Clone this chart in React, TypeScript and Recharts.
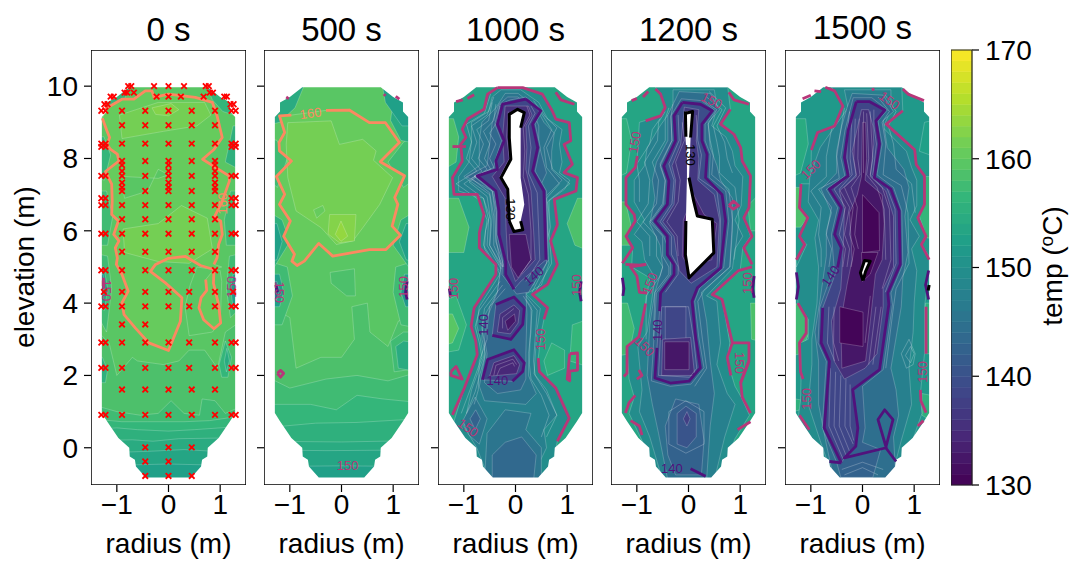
import { Scatter, ScatterChart, XAxis, YAxis } from 'recharts';

type Pt = [number, number];
type Layer = [number, Pt[]];
type Line = [number, Pt[]];
type Lab = [number, number, string, number, number];

const FONT = 'Liberation Sans, Arial, sans-serif';
const xTicks = [-1, 0, 1];
const yTicks = [0, 2, 4, 6, 8, 10];
const cbTicks = [130, 140, 150, 160, 170];
const titles = ['0 s', '500 s', '1000 s', '1200 s', '1500 s'];
const viridis = ['#440154', '#482878', '#3e4989', '#31688e', '#26828e', '#1f9e89', '#35b779', '#6ece58', '#b5de2b', '#fde725'];
const lineColor: Record<number, string> = { 160: '#fc8961', 150: '#b73779', 140: '#51127c', 130: '#000000' };
const levels = Array.from({ length: 40 }, (_, i) => 130 + i);

const frame: Pt[] = [[-1.5, -1.03], [-1.5, 11], [1.5, 11], [1.5, -1.03], [-1.5, -1.03]];
const vessel: Pt[] = [[-0.76, 9.97], [-1.0, 9.7], [-1.19, 9.55], [-1.19, 9.3], [-1.29, 9.15], [-1.29, 0.96], [-1.19, 0.73], [-0.97, 0.27], [-0.76, 0], [-0.75, -0.24], [-0.65, -0.33], [-0.63, -0.52], [-0.44, -0.82], [0.44, -0.82], [0.63, -0.52], [0.65, -0.33], [0.75, -0.24], [0.76, 0], [0.97, 0.27], [1.19, 0.73], [1.29, 0.96], [1.29, 9.15], [1.19, 9.3], [1.19, 9.55], [1.0, 9.7], [0.76, 9.97], [-0.76, 9.97]];
const mask: Pt[] = [[-1.5, 11], [1.5, 11], [1.5, -1.03], [-1.5, -1.03], [-1.5, 11], ...vessel, [-1.5, 11]];

// red sensor crosses, [elevation, radii]
const edge = [-1.3, -1.22, 1.22, 1.3];
const inner = [-0.9, -0.45, 0, 0.45, 0.9];
const sensorRows: [number, number[]][] = [
  [10.0, [-0.78, -0.72, -0.28, 0, 0.3, 0.72, 0.78]], [9.82, [-0.85, -0.8, -0.67, 0.8, 0.86]], [9.71, [-1.12, -1.06, -0.23, 0, 0.24, 0.68, 1.08, 1.13]],
  [9.5, [-1.24, -1.18, 1.2, 1.26]], [9.32, [...edge, ...inner]], [8.92, inner], [8.41, [...edge, ...inner]], [8.32, edge],
  [7.93, inner], [7.82, [-0.9, 0, 0.9]], [7.65, [-0.9, 0, 0.9]], [7.52, [...edge, ...inner]], [7.33, [-0.9, 0, 0.9]], [7.2, [-0.9, 0, 0.9]], [7.1, inner],
  [6.9, edge], [6.71, [...edge, ...inner]], [6.32, inner], [5.92, [...edge, ...inner]], [5.42, inner], [4.91, [...edge, ...inner]],
  [4.31, [-1.25, -0.9, -0.45, 0, 0.4, 0.9, 1.25]], [3.91, [-1.3, -1.22, -0.9, -0.45, 0, 0.4, 0.9, 1.22, 1.3]], [3.41, [-0.9, -0.45]],
  [2.91, [...edge, -0.9, -0.45, 0, 0.4, 0.9]], [2.21, [...edge, -0.9, -0.45, 0, 0.4, 0.9]], [1.61, inner], [0.91, [...edge, ...inner]],
  [0.01, [-0.45, 0, 0.45]], [-0.38, [-0.45, 0]], [-0.78, [-0.45, 0, 0.45]],
];
const sensors = sensorRows.flatMap(([y, rs]) => rs.map((r) => ({ r, y })));

const band = (line: Pt[]): Pt[] => [[-1.5, 11], ...line, [1.5, 11]];
const all: Pt[] = [[-1.5, -1.03], [-1.5, 11], [1.5, 11], [1.5, -1.03]];

// t = 0 s
const p0Contour160a: Pt[] = [[-1.28, 9.11], [-1.19, 8.76], [-1.14, 8.58], [-1.19, 8.39], [-1.12, 8.25], [-0.99, 8.12], [-0.96, 7.93], [-1.06, 7.82], [-1.22, 7.64], [-1.1, 7.29], [-1.09, 6.82], [-1.1, 6.45], [-0.97, 6.27], [-1.06, 5.9], [-0.96, 5.72], [-1.03, 5.53], [-0.99, 5.25], [-1.01, 5.07], [-0.9, 4.79], [-0.78, 4.33], [-0.9, 4.01], [-0.86, 3.68], [-0.64, 3.31], [-0.38, 2.9], [0, 2.69], [0.23, 3.5], [0.26, 4.15], [-0.06, 4.56], [-0.35, 4.88], [-0.25, 5.07], [0, 5.24], [0.33, 5.29], [0.62, 5.04], [0.88, 4.93]];
const p0Contour160b: Pt[] = [[0.88, 4.93], [0.87, 4.55], [0.97, 3.96], [1.01, 3.45], [0.88, 3.29], [0.68, 3.54], [0.59, 3.87], [0.63, 4.15], [0.74, 4.35], [0.72, 4.65]];
const p0Contour160c: Pt[] = [[0.88, 5.07], [0.94, 5.25], [0.97, 5.62], [1.04, 5.9], [1.01, 6.27], [0.88, 6.36], [1.04, 6.82], [1.18, 7.38], [1.17, 7.52], [0.97, 7.7], [0.66, 7.98], [0.88, 8.25], [1.04, 8.58], [1.01, 8.76], [0.94, 9.18], [0.85, 9.55], [0.52, 9.69], [0, 9.78], [-0.28, 9.69], [-0.32, 9.87], [-0.45, 9.87], [-0.67, 9.64], [-0.9, 9.64], [-1.12, 9.46], [-1.22, 9.36]];
const p0Layers: Layer[] = [
  [152, all],
  [153, band([[-1.5, -0.5], [0, -0.45], [1.5, -0.5]])],
  [154, band([[-1.5, -0.15], [-0.4, -0.1], [0.3, -0.05], [1.5, -0.15]])],
  [155, band([[-1.5, 0.2], [-0.7, 0.22], [-0.3, 0.18], [0.2, 0.25], [1.5, 0.28]])],
  [156, band([[-1.5, 0.5], [-1, 0.55], [-0.6, 0.5], [0, 0.46], [0.5, 0.5], [1.5, 0.6]])],
  [157, band([[-1.5, 0.8], [-0.9, 0.72], [-0.4, 0.72], [0.3, 0.72], [0.8, 0.75], [1.5, 0.9]])],
  [158, band([[-1.5, 1.2], [-1, 1.0], [-0.55, 0.9], [-0.2, 0.95], [0.05, 1.3], [0.3, 0.95], [0.6, 0.9], [0.65, 1.35], [0.9, 1.3], [1.1, 0.95], [1.5, 1.2]])],
  [159, band([[-1.5, 3.4], [-1.15, 2.9], [-1, 2.0], [-0.7, 2.5], [-0.6, 2.4], [-0.1, 2.3], [0.2, 2.4], [0.4, 2.7], [0.7, 2.7], [0.95, 2.2], [1.1, 3.2], [1.5, 3.6]])],
  [157, [[-1.5, 4.0], [-1.2, 3.2], [-1.1, 4.4], [-1.18, 5.3], [-1.5, 5.4]]],
  [153, [[-1.5, 4.0], [-1.24, 3.8], [-1.18, 4.4], [-1.25, 5.0], [-1.5, 5.0]]],
  [148, [[-1.5, 4.2], [-1.27, 4.2], [-1.24, 4.5], [-1.27, 4.8], [-1.5, 4.8]]],
  [157, [[1.5, 4.0], [1.2, 3.6], [1.12, 4.4], [1.18, 5.3], [1.5, 5.4]]],
  [152, [[1.5, 4.0], [1.25, 3.9], [1.2, 4.4], [1.25, 4.8], [1.5, 4.8]]],
  [156, [[0.98, 2.3], [1.1, 2.95], [1.22, 2.5], [1.15, 1.95], [1.03, 1.95]]],
  [154, [[1.08, 2.4], [1.13, 2.75], [1.18, 2.4], [1.12, 2.1]]],
  [155, [[-1.5, 1.8], [-1.22, 1.8], [-1.18, 2.15], [-1.28, 2.5], [-1.5, 2.5]]],
  [157, [[-1.5, 5.6], [-1.18, 5.6], [-1.08, 6.4], [-1.2, 7.1], [-1.5, 7.1]]],
  [157, [[1.5, 5.6], [1.12, 5.6], [1.08, 6.3], [1.2, 7.1], [1.5, 7.1]]],
  [156, [[-1.5, 7.5], [-1.24, 7.4], [-1.12, 8.1], [-1.25, 8.6], [-1.5, 8.6]]],
  [155, [[1.5, 7.6], [1.1, 7.9], [1.16, 8.3], [1.25, 8.9], [1.5, 8.9]]],
  [156, [[-1.5, 9.15], [-1.15, 9.3], [-0.9, 9.5], [-0.7, 10.1], [-1.5, 10.1]]],
  [156, [[1.5, 9.1], [1.05, 9.3], [0.85, 9.62], [0.7, 10.1], [1.5, 10.1]]],
  [160, [...p0Contour160a, [1.03, 5.0], ...p0Contour160c]],
  [159, [[-0.85, 7.5], [-0.2, 7.45], [0, 7.55], [-0.2, 7.7], [-0.4, 7.1], [-0.85, 6.9], [-0.9, 7.3]]],
  [159, [[0.55, 5.0], [1.0, 4.9], [1.03, 4.6], [1.01, 3.8], [1.0, 3.5], [0.85, 3.2], [0.4, 3.1], [0.32, 3.9], [0.42, 4.5]]],
  [160, p0Contour160b],
  [161, [[-0.95, 9.2], [-0.2, 9.55], [0.7, 9.55], [0.82, 9.2], [0.55, 8.9], [-0.1, 8.75], [-0.9, 8.55]]],
  [161, [[-0.88, 6.05], [-0.2, 6.2], [0.25, 6.7], [0.75, 6.35], [0.85, 5.5], [0.4, 5.1], [-0.2, 5.15], [-0.85, 5.4]]],
  [162, [[-0.32, 9.4], [0.05, 9.52], [0.2, 9.35], [0, 9.18], [-0.25, 9.22]]],
];
const p0Lines: Line[] = [[160, p0Contour160a], [160, p0Contour160b], [160, p0Contour160c], [150, [[-1.26, 4.7], [-1.25, 4.4]]]];
const p0Labels: Lab[] = [[1.05, 6.75, '160', -90, 160], [-1.2, 4.35, '150', 90, 150], [1.22, 4.45, '150', -90, 150]];
const p0Thin: Pt[][] = [];

// t = 500 s
const p1Contour160: Pt[] = [[-0.97, 9.2], [-1.2, 9.18], [-1.1, 8.72], [-1.21, 8.44], [-1.2, 8.21], [-0.97, 7.93], [-1.26, 7.5], [-1.1, 7.01], [-1.2, 6.73], [-0.99, 6.27], [-1.12, 5.85], [-0.91, 5.35], [-0.96, 5.16], [-0.86, 5.04], [-0.72, 5.16], [-0.44, 5.65], [-0.17, 5.3], [0.54, 5.48], [0.86, 5.48], [1.14, 5.88], [0.98, 6.13], [1.09, 6.73], [1.03, 6.92], [1.22, 7.52], [0.75, 7.91], [1.12, 8.44], [0.85, 8.99], [0.54, 8.99], [0.15, 9.34], [-0.3, 9.33]];
const p1Layers: Layer[] = [
  [152, all],
  [153, band([[-1.5, -0.52], [0, -0.5], [1.5, -0.52]])],
  [154, band([[-1.5, -0.06], [-0.3, -0.08], [1.5, -0.06]])],
  [155, band([[-1.5, 0.18], [0, 0.16], [1.5, 0.2]])],
  [156, band([[-1.5, 0.55], [-0.5, 0.68], [0.3, 0.7], [1.5, 0.8]])],
  [157, band([[-1.5, 1.2], [-0.6, 1.2], [-0.1, 1.05], [0.3, 1.45], [0.8, 1.35], [1.5, 1.25]])],
  [158, band([[-1.5, 2.0], [-1.0, 1.65], [-0.3, 1.9], [0.3, 2.0], [0.9, 1.85], [1.5, 2.1]])],
  [159, band([[-1.5, 4.0], [-1.0, 3.6], [-0.88, 2.2], [-0.4, 2.5], [0, 2.5], [0.25, 3.0], [0.2, 3.9], [0.5, 4.0], [0.55, 3.2], [0.9, 2.8], [1.1, 3.5], [1.5, 3.8]])],
  [158, [[-0.22, 4.85], [0.25, 4.95], [0.27, 4.2], [0.1, 4.2], [-0.2, 4.55]]],
  [157, [[1.5, 2.2], [1.02, 2.1], [0.95, 2.95], [1.2, 3.2], [1.5, 3.2]]],
  [154, [[1.5, 2.1], [1.1, 2.2], [1.05, 2.8], [1.2, 2.95], [1.5, 2.9]]],
  [157, [[-1.5, 3.4], [-1.15, 3.4], [-0.95, 4.2], [-1.05, 5.0], [-1.5, 5.2]]],
  [152, [[-1.5, 3.9], [-1.2, 3.9], [-1.12, 4.3], [-1.2, 4.8], [-1.5, 4.8]]],
  [146, [[-1.5, 4.1], [-1.25, 4.1], [-1.2, 4.35], [-1.25, 4.6], [-1.5, 4.6]]],
  [157, [[1.5, 3.3], [1.15, 3.4], [1.0, 4.3], [1.05, 5.0], [1.5, 5.2]]],
  [151, [[1.5, 3.9], [1.24, 3.9], [1.15, 4.3], [1.22, 4.8], [1.5, 4.8]]],
  [155, [[-1.5, 5.2], [-1.3, 5.0], [-1.0, 5.7], [-1.15, 6.3], [-1.5, 6.6]]],
  [152, [[-1.5, 5.1], [-1.25, 5.2], [-1.15, 5.7], [-1.25, 6.2], [-1.5, 6.2]]],
  [155, [[1.5, 5.1], [1.3, 5.0], [1.0, 5.6], [1.15, 6.3], [1.5, 6.6]]],
  [152, [[1.5, 5.1], [1.25, 5.2], [1.12, 5.7], [1.25, 6.2], [1.5, 6.2]]],
  [157, [[-1.5, 7.5], [-1.24, 7.2], [-1.05, 8.0], [-1.25, 8.5], [-1.5, 8.6]]],
  [157, [[1.5, 7.5], [1.2, 7.2], [0.9, 7.9], [1.2, 8.45], [1.5, 8.7]]],
  [154, [[1.5, 8.4], [1.15, 8.5], [0.95, 9.05], [1.0, 9.6], [1.5, 9.6]]],
  [152, [[1.5, 8.9], [1.17, 8.9], [0.85, 9.55], [0.78, 10.1], [1.5, 10.1]]],
  [154, [[-1.5, 8.9], [-1.2, 9.0], [-0.9, 9.4], [-0.7, 10.1], [-1.5, 10.1]]],
  [160, p1Contour160],
  [161, [[-1.04, 8.99], [-0.2, 9.04], [-0.04, 8.39], [0.41, 8.53], [0.67, 8.21], [0.62, 7.95], [0.99, 7.47], [0.74, 6.73], [0.41, 6.08], [0.22, 5.72], [-0.1, 5.62], [-0.39, 6.08], [-0.88, 6.55], [-1.04, 7.47], [-1.07, 8.39]]],
  [160, [[-0.54, 6.58], [-0.36, 6.7], [-0.32, 6.55], [-0.48, 6.35]]],
  [162, [[-0.23, 6.45], [0.28, 6.45], [0.25, 5.72], [-0.04, 5.67], [-0.26, 5.91]]],
  [163, [[-0.01, 6.27], [0.12, 5.85], [-0.01, 5.71], [-0.12, 5.9]]],
];
const p1Lines: Line[] = [[160, p1Contour160], [150, [[-1.24, 2.06], [-1.18, 2.14], [-1.12, 2.06], [-1.18, 1.95], [-1.24, 2.06]]], [140, [[1.27, 4.6], [1.24, 4.3], [1.27, 4.1]]], [140, [[-1.27, 4.5], [-1.24, 4.3]]], [150, [[-1.07, 9.7], [-1.02, 9.65]]], [150, [[0.82, 9.78], [0.85, 9.73]]], [150, [[1.05, 9.72], [1.12, 9.64]]]];
const p1Labels: Lab[] = [[-0.6, 9.25, '160', -8, 160], [-1.2, 4.3, '150', 90, 150], [1.2, 4.45, '150', -90, 150], [0.12, -0.5, '150', 0, 150]];
const p1Thin: Pt[][] = [];

// t = 1000 s
const p2Loop150: Pt[] = [[-0.35, 9.96], [-0.54, 9.78], [-0.61, 9.36], [-0.93, 9.09], [-1.03, 8.81], [-0.96, 8.58], [-1.06, 8.39], [-1.03, 7.93], [-1.22, 7.47], [-1.19, 7.01], [-0.74, 7.01], [-0.61, 6.45], [-0.7, 5.95], [-0.7, 5.53], [-0.38, 5.07], [-0.38, 4.79], [-0.8, 3.87], [-0.86, 3.36], [-0.77, 2.95], [-0.74, 2.58], [-0.99, 1.65], [-1.22, 0.91]];
const p2Right150: Pt[] = [[-0.35, 9.96], [0.14, 9.96], [0.52, 9.78], [0.71, 9.32], [0.78, 9.09], [1.04, 8.99], [1.07, 8.49], [0.94, 8.39], [1.1, 7.84], [0.94, 7.61], [1.2, 7.47], [1.17, 7.1], [0.75, 6.87], [0.81, 6.17], [0.68, 5.72], [0.81, 5.07], [0.62, 4.52], [0.33, 4.24], [0.62, 3.87], [0.55, 3.55]];
const p2Right150b: Pt[] = [[0.44, 2.48], [0.46, 2.11], [0.78, 1.65], [1.04, 0.82], [0.81, 0.18]];
const p2Core140: Pt[] = [[0.2, 9.64], [-0.25, 9.5], [-0.35, 8.95], [-0.22, 8.49], [-0.38, 7.93], [-0.35, 7.7], [-0.74, 7.52], [-0.38, 7.1], [-0.32, 6.55], [-0.32, 5.9], [-0.19, 5.16], [-0.19, 4.79], [-0.03, 4.38], [0.1, 4.6], [0.59, 5.2], [0.55, 7.1], [0.33, 7.65], [0.43, 8.3], [0.33, 8.95], [0.49, 9.32], [0.2, 9.64]];
const p2Lobe1: Pt[] = [[-0.38, 3.96], [-0.03, 4.17], [0.17, 3.87], [0.14, 3.41], [-0.09, 3.0], [-0.45, 3.11]];
const p2Lobe2: Pt[] = [[-0.64, 1.88], [-0.54, 2.44], [-0.03, 2.71], [0.17, 2.35], [0.14, 2.11], [-0.06, 1.84]];
const p2Hole: Pt[] = [[-0.12, 9.22], [0.04, 9.36], [0.17, 9.27], [0.1, 8.85], [0.1, 8.21], [0.1, 7.47], [0.17, 6.73], [0.1, 6.27], [0.14, 6.03], [-0.03, 5.98], [-0.12, 6.27], [-0.15, 7.15], [-0.28, 7.47], [-0.09, 7.98], [-0.12, 8.57]];
const p2Layers: Layer[] = [
  [153, all],
  [156, [[-1.5, 2.6], [-1.1, 2.7], [-0.95, 3.4], [-1.15, 4.2], [-1.5, 4.0]]],
  [159, [[-1.5, 2.8], [-1.22, 2.9], [-1.1, 3.3], [-1.22, 3.7], [-1.5, 3.7]]],
  [158, [[-1.5, 5.4], [-1.0, 5.4], [-0.9, 6.1], [-1.1, 6.9], [-1.5, 6.9]]],
  [158, [[-1.5, 7.6], [-1.15, 7.9], [-1.1, 8.6], [-1.2, 9.1], [-1.5, 9.1]]],
  [158, [[1.5, 5.4], [1.15, 5.6], [1.0, 6.2], [1.2, 6.9], [1.5, 6.9]]],
  [156, [[1.5, 2.2], [1.05, 2.4], [1.1, 3.4], [1.5, 3.6]]],
  [155, [[0.62, 2.0], [0.95, 2.2], [0.95, 2.7], [0.7, 2.9], [0.55, 2.4]]],
  [149, [...p2Loop150.slice(0, -1), [-1.22, 0.6], [-0.6, -0.9], [0.65, -0.9], [0.81, 0.18], [1.04, 0.82], [0.78, 1.65], [0.46, 2.11], [0.44, 2.48], [0.5, 3.2], ...[...p2Right150].reverse()]],
  [147, [[-0.28, 9.9], [0.1, 9.9], [0.45, 9.55], [0.62, 9.1], [0.9, 8.8], [0.85, 8.4], [0.9, 7.9], [0.85, 7.6], [1.05, 7.4], [0.95, 7.15], [0.62, 6.8], [0.68, 6.1], [0.58, 5.6], [0.65, 5.1], [0.5, 4.5], [0.2, 4.25], [0.48, 3.85], [0.42, 3.3], [0.38, 2.5], [0.36, 2.05], [0.6, 1.6], [0.8, 0.9], [0.55, 0.5], [0.6, 0], [0.3, -0.9], [-0.5, -0.9], [-0.75, 0], [-1.0, 0.6], [-0.85, 1.6], [-0.62, 2.5], [-0.68, 3.0], [-0.75, 3.4], [-0.7, 3.9], [-0.3, 4.8], [-0.6, 5.5], [-0.58, 6.0], [-0.5, 6.4], [-0.62, 6.9], [-1.1, 7.1], [-1.1, 7.5], [-0.9, 7.9], [-0.85, 8.5], [-0.85, 9], [-0.52, 9.3], [-0.45, 9.7]]],
  [145, [[-0.2, 9.8], [0.05, 9.8], [0.4, 9.4], [0.55, 9.0], [0.75, 8.7], [0.7, 8.2], [0.7, 7.7], [0.9, 7.4], [0.55, 6.9], [0.55, 6], [0.5, 5.1], [0.35, 4.5], [0.1, 4.3], [0.3, 3.9], [0.3, 3.2], [0.25, 2.6], [0.25, 2], [0.4, 1.5], [0.2, 1.2], [-0.6, 1.3], [-0.7, 1.7], [-0.58, 2.6], [-0.65, 3.0], [-0.62, 3.6], [-0.35, 4.3], [-0.28, 5], [-0.5, 5.6], [-0.45, 6.4], [-0.5, 7.0], [-1.0, 7.5], [-0.7, 7.8], [-0.7, 8.5], [-0.65, 9.0], [-0.38, 9.4]]],
  [145, [[-0.6, -0.9], [0.5, -0.9], [0.5, 0], [0.2, 0.5], [0.3, 0.95], [-0.2, 1.05], [-0.55, 0.4]]],
  [143, [[-0.45, -0.9], [0.35, -0.9], [0.4, -0.2], [0.12, 0.3], [-0.2, 0.15], [-0.45, -0.2]]],
  [145, [[-1.02, 0.75], [-0.78, 1.4], [-0.55, 0.8], [-0.7, 0.1], [-0.9, 0.35]]],
  [142, [[-0.88, 0.8], [-0.77, 1.05], [-0.68, 0.8], [-0.78, 0.5]]],
  [143, [[-0.15, 9.7], [0.05, 9.7], [0.35, 9.25], [0.45, 8.9], [0.45, 8.4], [0.6, 7.6], [0.4, 7.0], [0.45, 6], [0.42, 5.1], [0.2, 4.4], [0.22, 3.7], [0.2, 2.6], [0.2, 1.9], [0.1, 1.6], [-0.35, 1.5], [-0.6, 1.8], [-0.55, 2.6], [-0.6, 3.0], [-0.55, 3.6], [-0.35, 4.3], [-0.28, 5], [-0.38, 5.8], [-0.4, 6.5], [-0.45, 7.1], [-0.95, 7.5], [-0.55, 7.8], [-0.5, 8.4], [-0.45, 9.0], [-0.32, 9.5]]],
  [141, [[-0.1, 9.62], [0.2, 9.7], [0.52, 9.32], [0.38, 8.95], [0.48, 8.3], [0.38, 7.65], [0.6, 7.1], [0.64, 5.2], [0.25, 4.3], [0.02, 4.25], [-0.26, 4.79], [-0.25, 5.2], [-0.36, 5.9], [-0.36, 6.55], [-0.42, 7.1], [-0.8, 7.52], [-0.42, 7.7], [-0.4, 7.93], [-0.27, 8.49], [-0.4, 8.95], [-0.3, 9.5]]],
  [138, p2Core140],
  [135, [[-0.2, 9.45], [0.25, 9.45], [0.32, 9.2], [0.2, 8.9], [0.22, 8.3], [0.2, 7.7], [0.3, 7.1], [0.35, 6.0], [0.38, 5.2], [0, 4.6], [-0.15, 5.2], [-0.18, 6.0], [-0.2, 6.9], [-0.45, 7.5], [-0.22, 7.9], [-0.25, 8.6]]],
  [132, [[-0.12, 5.9], [0.2, 5.9], [0.3, 5.2], [0.05, 4.7], [-0.08, 5.0]]],
  [138, p2Lobe1], [135, [[-0.3, 3.7], [-0.03, 3.95], [0.08, 3.8], [0.05, 3.45], [-0.1, 3.15], [-0.35, 3.2]]], [132, [[-0.2, 3.5], [-0.02, 3.7], [0, 3.5], [-0.15, 3.25]]],
  [138, p2Lobe2], [134, [[-0.5, 1.98], [-0.42, 2.35], [-0.03, 2.55], [0.08, 2.3], [0.02, 2.05]]],
  [0, p2Hole],
];
const p2Lines: Line[] = [
  [150, p2Loop150], [150, p2Right150], [150, p2Right150b],
  [150, [[-1.15, 9.57], [-1.02, 9.62]]], [150, [[-0.93, 9.66], [-0.8, 9.76]]], [150, [[0.78, 9.83], [0.88, 9.62], [1.14, 9.5]]], [150, [[-1.22, 8.33], [-0.96, 8.33]]],
  [150, [[-1.25, 2.1], [-1.15, 2.25], [-1.03, 1.9], [-1.25, 2.0], [-1.25, 2.1]]],
  [150, [[1.05, 2.6], [1.2, 2.62], [1.2, 2.15], [1.05, 2.12], [1.05, 1.85], [1.0, 1.9], [1.05, 2.6]]],
  [140, p2Core140.slice(0, 13)], [140, p2Core140.slice(14)], [140, [...p2Lobe1]], [140, [...p2Lobe2]],
  [140, [[-1.28, 4.4], [-1.26, 4.2]]], [140, [[1.27, 4.6], [1.24, 4.3], [1.27, 4.05]]],
  [130, [...p2Hole.slice(10), ...p2Hole.slice(0, 4)]], [130, p2Hole.slice(7, 11)],
];
const p2Labels: Lab[] = [[-0.1, 6.6, '130', 90, 130], [0.35, 4.75, '140', -40, 140], [-0.62, 3.4, '140', -90, 140], [-0.35, 1.85, '140', 0, 140], [0.48, 3.0, '150', -90, 150], [-1.2, 4.4, '150', -90, 150], [1.18, 4.5, '150', -90, 150], [-0.92, 0.55, '150', 35, 150]];
const p2Thin: Pt[][] = [
  [[-0.45, 9.55], [-0.52, 9.05], [-0.75, 8.8], [-0.62, 8.4], [-0.72, 8.0], [-0.55, 7.7], [-0.9, 7.35], [-0.55, 6.95], [-0.48, 6.3], [-0.5, 5.6], [-0.25, 5.0]],
  [[-0.38, 9.5], [-0.42, 9.05], [-0.62, 8.75], [-0.5, 8.4], [-0.6, 8.0], [-0.48, 7.7], [-0.85, 7.45], [-0.5, 7.05], [-0.42, 6.4], [-0.42, 5.6], [-0.24, 5.0]],
  [[-0.3, 9.45], [-0.36, 9.0], [-0.5, 8.7], [-0.38, 8.4], [-0.5, 8.0], [-0.42, 7.75], [-0.8, 7.5], [-0.45, 7.1], [-0.37, 6.5], [-0.38, 5.7], [-0.22, 5.0]],
  [[-0.48, 9.8], [-0.6, 9.25], [-0.95, 8.95], [-0.85, 8.45], [-0.95, 8.0], [-0.75, 7.65], [-1.15, 7.3], [-0.7, 6.85], [-0.55, 6.3], [-0.62, 5.6], [-0.32, 4.9]],
  [[-0.42, 9.7], [-0.55, 9.2], [-0.85, 8.9], [-0.75, 8.45], [-0.85, 8.0], [-0.65, 7.65], [-1.0, 7.3], [-0.62, 6.9], [-0.52, 6.3], [-0.55, 5.6], [-0.28, 4.95]],
  [[0.35, 9.6], [0.58, 9.15], [0.8, 8.85], [0.6, 8.3], [0.72, 7.7], [1.05, 7.3], [0.65, 6.85], [0.65, 5.9], [0.7, 5.1], [0.4, 4.35]],
  [[0.3, 9.55], [0.52, 9.2], [0.7, 8.8], [0.55, 8.3], [0.6, 7.75], [0.85, 7.3], [0.6, 6.9], [0.62, 6], [0.6, 5.1], [0.32, 4.3]],
  [[-0.3, 4.6], [-0.7, 3.8], [-0.78, 3.35], [-0.7, 2.9], [-0.65, 2.5], [-0.88, 1.6], [-1.05, 0.95]],
  [[-0.25, 4.5], [-0.6, 3.85], [-0.65, 3.3], [-0.6, 2.9], [-0.6, 2.5], [-0.78, 1.55], [-0.95, 0.95]],
  [[-0.2, 4.4], [-0.5, 3.9], [-0.55, 3.3], [-0.55, 3], [-0.7, 2.4], [-0.72, 1.6], [-0.8, 1.2]],
  [[0.2, 4.2], [0.42, 3.8], [0.38, 3], [0.35, 2.4], [0.38, 2], [0.6, 1.5], [0.8, 0.9], [0.6, 0.3]],
  [[0.15, 4.2], [0.32, 3.8], [0.28, 3], [0.27, 2.3], [0.3, 1.9], [0.5, 1.45], [0.65, 0.9], [0.5, 0.3]],
  [[-0.14, 9.3], [-0.17, 8.6], [-0.12, 8], [-0.3, 7.5], [-0.13, 7], [-0.1, 6.2]],
  [[0.22, 9.45], [0.28, 9.2], [0.15, 8.85], [0.18, 8.2], [0.15, 7.5], [0.25, 7], [0.3, 6.0], [0.3, 5.2], [0.1, 4.8]],
  [[0.3, 9.45], [0.38, 9.25], [0.25, 8.9], [0.3, 8.3], [0.25, 7.6], [0.42, 7.05], [0.45, 6], [0.47, 5.2], [0.2, 4.6]],
  [[-0.42, 2.0], [-0.38, 2.28], [-0.05, 2.45], [0.02, 2.3]],
  [[-0.36, 2.0], [-0.3, 2.2], [-0.05, 2.35], [-0.02, 2.25]],
  [[-0.25, 3.3], [-0.25, 3.6], [-0.03, 3.85]],
];

// t = 1200 s
const p3Core140: Pt[] = [[-0.12, 9.55], [-0.28, 9.18], [-0.25, 8.49], [-0.48, 7.79], [-0.38, 7.38], [-0.41, 6.73], [-0.65, 6.27], [-0.41, 5.85], [-0.41, 5.34], [-0.28, 5.07], [-0.28, 4.79], [-0.54, 4.28], [-0.56, 3.78]];
const p3Core140b: Pt[] = [[-0.61, 2.76], [-0.65, 1.93], [-0.35, 1.79], [0.01, 1.84], [0.23, 2.21], [0.14, 3.04], [0.07, 4.05], [0.17, 4.42], [0.62, 4.97], [0.72, 6.27], [0.65, 7.0], [0.33, 7.47], [0.36, 8.12], [0.26, 8.49], [0.26, 8.95], [0.46, 9.32], [0.23, 9.5], [-0.12, 9.55]];
const p3Hole: Pt[] = [[-0.06, 9.3], [0.08, 9.3], [0.04, 8.58], [0.01, 7.47], [0.1, 6.82], [0.17, 6.41], [0.46, 6.32], [0.49, 5.39], [0.01, 4.7], [-0.06, 5.34], [-0.05, 6.27], [-0.03, 7.5], [-0.03, 8.0], [-0.06, 8.6]];
const p3Left150: Pt[] = [[-0.99, 8.07], [-1.03, 7.75], [-1.21, 7.47], [-1.21, 6.73], [-1.05, 6.45], [-1.03, 6.27], [-1.21, 5.85], [-1.08, 5.53], [-1.28, 5.1]];
const p3Left150b: Pt[] = [[-0.83, 3.99], [-0.96, 3.07], [-1.19, 2.8], [-1.19, 2.06], [-1.25, 1.97]];
const p3Right150: Pt[] = [[0.81, 9.36], [0.62, 8.95], [0.88, 8.67], [1.01, 8.3], [1.04, 7.93], [1.2, 7.52], [1.17, 6.64], [1.07, 6.36], [1.23, 5.85], [1.07, 5.53], [1.23, 5.07]];
const p3Right150b: Pt[] = [[1.23, 5.0], [0.97, 4.9], [0.46, 4.24], [0.65, 4.1], [0.85, 2.9], [1.17, 2.9], [1.17, 2.4], [1.01, 1.8], [1.04, 1.4], [1.2, 0.96]];
const p3Top150: Pt[] = [[-0.83, 9.04], [-0.54, 9.18], [-0.45, 9.41], [-0.54, 9.78], [-0.64, 9.92]];
const p3Layers: Layer[] = [
  [153, all],
  [157, [[-1.5, 2.5], [-1.15, 2.6], [-1.05, 3.3], [-1.18, 4.0], [-1.5, 4.0]]],
  [158, [[-1.5, 5.6], [-1.12, 5.6], [-1.12, 6.2], [-1.22, 6.8], [-1.5, 6.8]]],
  [158, [[1.5, 2.9], [1.22, 3.0], [1.2, 4.0], [1.5, 4.0]]],
  [156, [[1.5, 6.0], [1.2, 6.0], [1.15, 6.7], [1.5, 7.2]]],
  [155, [[-1.5, 7.4], [-1.2, 7.6], [-1.1, 8.5], [-1.2, 9.1], [-1.5, 9.1]]],
  [149, [[-0.64, 9.97], [0.76, 9.97], [0.81, 9.36], [0.62, 8.95], [0.88, 8.67], [1.01, 8.3], [1.04, 7.93], [1.2, 7.52], [1.17, 6.64], [1.07, 6.36], [1.2, 5.85], [1.05, 5.53], [1.0, 4.9], [0.46, 4.24], [0.65, 4.1], [0.8, 2.9], [0.75, 2.4], [0.9, 1.7], [1.02, 1.4], [1.18, 0.9], [0.9, 0.25], [0.6, -0.9], [-0.6, -0.9], [-0.9, 0.2], [-1.15, 0.95], [-1.05, 1.4], [-1.15, 1.9], [-1.19, 2.8], [-0.96, 3.07], [-0.83, 3.99], [-0.75, 4.7], [-1.1, 5.0], [-1.08, 5.53], [-1.21, 5.85], [-1.03, 6.27], [-1.05, 6.45], [-1.21, 6.73], [-1.21, 7.47], [-1.03, 7.75], [-0.99, 8.07], [-0.95, 9.0], [-0.54, 9.18], [-0.45, 9.41], [-0.54, 9.78]]],
  [147, [[-0.3, 9.9], [0.5, 9.9], [0.55, 9.4], [0.45, 8.9], [0.72, 8.6], [0.85, 8.2], [0.9, 7.8], [1.05, 7.5], [1.02, 6.7], [0.9, 6.3], [1.05, 5.85], [0.9, 5.5], [0.85, 4.95], [0.35, 4.2], [0.55, 4.05], [0.62, 2.9], [0.55, 2.3], [0.75, 1.5], [0.9, 1.2], [0.7, 0.3], [0.5, -0.9], [-0.5, -0.9], [-0.75, 0.3], [-0.95, 1.0], [-0.9, 1.6], [-0.98, 2.8], [-0.8, 3.2], [-0.72, 4.0], [-0.65, 4.7], [-0.85, 5.2], [-0.9, 5.7], [-1.05, 5.9], [-0.85, 6.3], [-1.05, 6.8], [-1.05, 7.4], [-0.85, 7.8], [-0.8, 8.3], [-0.55, 8.9], [-0.3, 9.4]]],
  [144, [[-0.18, 9.85], [0.42, 9.8], [0.6, 9.35], [0.38, 9.0], [0.42, 8.3], [0.55, 7.8], [0.62, 7.4], [0.85, 6.9], [0.85, 6.0], [0.8, 5], [0.25, 4.3], [0.35, 3.5], [0.42, 2.4], [0.5, 1.5], [0.42, 0.6], [0.35, -0.9], [-0.4, -0.9], [-0.58, 0.4], [-0.7, 1.2], [-0.8, 2.0], [-0.75, 3.4], [-0.65, 4.3], [-0.5, 5.0], [-0.55, 5.6], [-0.75, 6.2], [-0.65, 6.9], [-0.7, 7.4], [-0.62, 7.9], [-0.4, 8.5], [-0.4, 9.2]]],
  [142, [[-0.25, -0.75], [0.25, -0.75], [0.3, 0.2], [0.2, 1.2], [-0.25, 1.35], [-0.45, 0.6], [-0.4, -0.2]]],
  [140, [[-0.22, 0.1], [-0.03, 0.0], [0.15, 0.3], [0.15, 0.95], [-0.05, 1.15], [-0.22, 0.95]]],
  [137, [[-0.03, 0.6], [0.03, 0.8], [-0.03, 1.0], [-0.1, 0.8]]],
  [142, [[-0.14, 9.65], [0.25, 9.6], [0.52, 9.32], [0.32, 8.95], [0.32, 8.49], [0.42, 8.12], [0.4, 7.47], [0.72, 7.1], [0.78, 6.27], [0.68, 4.97], [0.22, 4.42], [0.12, 4.05], [0.2, 3.04], [0.3, 2.21], [0.05, 1.76], [-0.35, 1.7], [-0.72, 1.85], [-0.68, 2.76], [-0.62, 4.28], [-0.35, 4.79], [-0.35, 5.34], [-0.48, 5.85], [-0.72, 6.27], [-0.48, 6.73], [-0.45, 7.38], [-0.55, 7.79], [-0.32, 8.49], [-0.34, 9.18]]],
  [139, [...p3Core140, ...p3Core140b]],
  [136, [[-0.08, 9.42], [0.2, 9.35], [0.15, 8.5], [0.2, 8.0], [0.18, 7.4], [0.5, 7.0], [0.6, 6.3], [0.55, 5.0], [0.05, 4.55], [-0.18, 4.9], [-0.28, 5.85], [-0.5, 6.25], [-0.28, 6.73], [-0.25, 7.4], [-0.32, 7.8], [-0.15, 8.4]]],
  [138, [[-0.45, 3.9], [-0.05, 3.9], [-0.05, 3.0], [-0.45, 3.0]]],
  [135, [[-0.5, 3.0], [0.04, 3.05], [0.12, 2.0], [-0.52, 2.0]]],
  [132, [[-0.46, 2.93], [0.01, 2.93], [0.01, 2.16], [-0.46, 2.16]]],
  [133, [[0.0, 5.0], [0.45, 5.2], [0.55, 6.2], [0.3, 6.45], [0.1, 7.0], [-0.1, 6.3], [-0.12, 5.3]]],
  [0, p3Hole],
];
const p3Lines: Line[] = [
  [150, p3Left150], [150, p3Left150b], [150, p3Right150], [150, p3Right150b], [150, p3Top150],
  [150, [[0.85, 2.9], [0.75, 2.5], [0.82, 2.0]]], [150, [[1.17, 2.4], [1.01, 1.8]]],
  [150, [[-1.22, 5.07], [-0.92, 5.05], [-0.82, 5.07]]], [150, [[-0.82, 5.07], [-1.12, 5.0], [-1.0, 4.75], [-0.95, 4.3], [-0.8, 4.28]]],
  [150, [[-1.1, 9.6], [-1.0, 9.66]]], [150, [[-0.88, 9.7], [-0.78, 9.85]]], [150, [[0.78, 9.83], [0.88, 9.62], [1.17, 9.5]]],
  [150, [[0.78, 6.7], [0.87, 6.82], [0.97, 6.7], [0.87, 6.6], [0.78, 6.7]]],
  [150, [[-1.22, 0.96], [-1.15, 1.25], [-1.03, 1.45]]], [150, [[-1.12, 0.75], [-0.95, 0.6], [-0.9, 0.35]]], [150, [[0.95, 0.5], [1.2, 0.72]]], [150, [[-1.0, 1.9], [-0.9, 2.0], [-0.96, 2.15]]],
  [140, p3Core140], [140, p3Core140b], [140, [[0.04, -0.58], [0.33, -0.79]]], [140, [[-1.28, 4.7], [-1.25, 4.4], [-1.27, 4.2]]], [140, [[1.27, 4.75], [1.24, 4.4], [1.27, 4.15]]],
  [130, [[-0.05, 9.25], [0.08, 9.3], [0.04, 8.58]]], [130, p3Hole.slice(3, 11)], [130, [[-0.06, 9.3], [-0.05, 8.6]]],
];
const p3Labels: Lab[] = [[-1.04, 8.45, '150', -80, 150], [0.45, 9.6, '150', 25, 150], [-0.6, 3.25, '140', -90, 140], [-0.85, 2.8, '150', 45, 150], [0.98, 2.35, '150', 90, 150], [1.15, 4.55, '150', -90, 150], [-0.75, 4.55, '150', -70, 150], [-0.32, -0.57, '140', 0, 140], [0.03, 8.1, '130', 90, 130]];
const p3Thin: Pt[][] = [
  [[-0.3, 9.5], [-0.34, 9.15], [-0.32, 8.5], [-0.55, 7.85], [-0.45, 7.4], [-0.5, 6.75], [-0.75, 6.25], [-0.5, 5.85], [-0.5, 5.3], [-0.38, 5.0], [-0.38, 4.8], [-0.65, 4.3], [-0.68, 3]],
  [[-0.38, 9.4], [-0.45, 9.1], [-0.45, 8.5], [-0.7, 7.9], [-0.58, 7.4], [-0.62, 6.75], [-0.88, 6.25], [-0.62, 5.85], [-0.62, 5.3], [-0.5, 5.0], [-0.55, 4.75], [-0.82, 4.2], [-0.82, 3.0]],
  [[-0.45, 9.3], [-0.58, 9.0], [-0.6, 8.5], [-0.85, 7.9], [-0.75, 7.4], [-0.78, 6.75], [-1, 6.25], [-0.75, 5.85], [-0.75, 5.3]],
  [[-0.55, 9.1], [-0.7, 8.8], [-0.75, 8.4], [-1, 7.85], [-0.95, 7.4], [-0.95, 6.8]],
  [[0.28, 9.6], [0.55, 9.35], [0.38, 8.95], [0.42, 8.5], [0.48, 8.1], [0.45, 7.55], [0.78, 7.15], [0.85, 6.3], [0.8, 5], [0.3, 4.35], [0.18, 4.05], [0.27, 3], [0.35, 2.2], [0.12, 1.7]],
  [[0.35, 9.7], [0.65, 9.35], [0.48, 8.9], [0.55, 8.45], [0.6, 8.05], [0.6, 7.6], [0.9, 7.2], [0.98, 6.3], [0.88, 5.2]],
  [[0.4, 9.85], [0.72, 9.4], [0.55, 8.9], [0.7, 8.45], [0.75, 8.0], [0.85, 7.6]],
  [[-0.2, 9.2], [-0.18, 8.5], [-0.38, 7.85], [-0.28, 7.4], [-0.32, 6.75], [-0.55, 6.25], [-0.33, 5.85], [-0.33, 5.35], [-0.2, 5], [-0.2, 4.8], [-0.45, 4.3]],
  [[-0.12, 9], [-0.08, 8.5], [-0.25, 7.9], [-0.16, 7.4], [-0.2, 6.8], [-0.42, 6.25], [-0.22, 5.85], [-0.2, 5.3]],
  [[0.15, 9.2], [0.18, 8.5], [0.25, 8.1], [0.2, 7.45], [0.55, 7.1], [0.62, 6.3], [0.6, 5]],
  [[-0.52, 3.9], [-0.55, 2.9], [-0.58, 2.0], [0.02, 1.95], [0.16, 2.2], [0.1, 3.0], [0, 3.9], [-0.52, 3.9]],
  [[-0.38, 0.1], [-0.05, -0.15], [0.3, 0.1], [0.3, 1.0], [-0.05, 1.3], [-0.38, 1.0], [-0.38, 0.1]],
];

// t = 1500 s
const p4CoreLeft: Pt[] = [[-0.12, 9.57], [-0.28, 8.77], [-0.35, 8.03], [-0.28, 7.52], [-0.64, 7.15], [-0.41, 6.64], [-0.54, 5.9], [-0.41, 5.53], [-0.48, 5.0], [-0.48, 4.98]];
const p4CoreLeftB: Pt[] = [[-0.77, 3.87], [-0.8, 2.9], [-0.64, 2.39], [-0.74, 0.55], [-0.41, -0.42]];
const p4CoreRight: Pt[] = [[-0.12, 9.57], [0.14, 9.57], [0.43, 9.34], [0.26, 9.04], [0.33, 8.4], [0.23, 7.47], [0.55, 7.15], [0.71, 6.55], [0.73, 5.07], [0.49, 4.28], [0.51, 3.96], [0.33, 2.16], [-0.19, 1.61], [-0.09, 0.55], [-0.13, 0.04], [-0.35, -0.28], [0.46, 0.0], [0.3, 0.78], [0.43, 1.05], [0.59, 0.78], [0.45, 0.0], [0.65, -0.38]];
const p4Hole: Pt[] = [[0.01, 4.62], [-0.04, 4.84], [0.04, 5.18], [0.15, 5.16], [0.06, 4.88]];
const p4Layers: Layer[] = [
  [151, all],
  [157, [[-1.5, 2.5], [-1.2, 2.6], [-1.0, 3.3], [-1.1, 4.0], [-1.5, 3.95]]],
  [158, [[-1.5, 6.1], [-1.2, 6.1], [-1.05, 6.4], [-1.15, 7.2], [-1.5, 7.2]]],
  [154, [[-1.5, 7.4], [-1.2, 7.6], [-1.05, 8.4], [-1.1, 9.1], [-1.5, 9.1]]],
  [155, [[1.5, 2.6], [1.22, 2.6], [1.22, 4.0], [1.5, 4.0]]],
  [156, [[1.5, 5.8], [1.25, 5.8], [1.1, 6.4], [1.17, 7.5], [1.5, 7.5]]],
  [155, [[1.5, 1.4], [1.15, 1.5], [1.15, 0.9], [1.5, 0.6]]],
  [155, [[-1.5, 0.95], [-1.2, 1.05], [-1.1, 1.3], [-1.5, 1.4]]],
  [152, [[1.5, 8.0], [1.1, 8.2], [1.2, 9.0], [1.5, 9.1]]],
  [149, [[-0.6, 9.97], [0.76, 9.97], [0.78, 9.32], [0.46, 8.95], [1.01, 8.24], [1.04, 7.83], [1.2, 7.52], [1.2, 6.73], [1.07, 6.36], [1.23, 5.85], [1.14, 5.62], [1.29, 5.3], [1.29, 4.9], [1.2, 3.9], [1.2, 2.6], [1.12, 1.5], [1.15, 0.95], [0.98, 0.25], [0.7, -0.9], [-0.7, -0.9], [-1.0, 0.25], [-1.24, 0.88], [-1.2, 1.3], [-1.19, 1.9], [-1.2, 2.9], [-1.05, 3.0], [-1.05, 3.55], [-1.25, 4.0], [-1.29, 5.2], [-1.28, 5.0], [-1.08, 5.62], [-1.22, 5.85], [-1.06, 6.36], [-1.22, 6.64], [-1.19, 7.3], [-1.0, 7.3], [-0.99, 8.23], [-0.87, 8.72], [-0.54, 8.9], [-0.38, 9.45], [-0.54, 9.87]]],
  [147, [[-0.35, 9.9], [0.55, 9.9], [0.55, 9.35], [0.4, 8.85], [0.85, 8.2], [0.95, 7.75], [1.05, 7.4], [1.05, 6.7], [0.92, 6.3], [1.1, 5.85], [0.95, 5.5], [1.05, 4.9], [1.0, 4.0], [0.98, 3.2], [0.9, 2.2], [0.95, 1.2], [0.75, 0.2], [0.55, -0.9], [-0.55, -0.9], [-0.82, 0.2], [-1.05, 1.2], [-0.98, 2.3], [-0.98, 3.0], [-0.88, 4.0], [-0.85, 5.0], [-0.92, 5.8], [-0.85, 6.3], [-1.05, 6.8], [-1.02, 7.5], [-0.82, 8.3], [-0.6, 8.75], [-0.28, 9.4]]],
  [144, [[-0.2, 9.8], [0.4, 9.75], [0.6, 9.3], [0.4, 9.05], [0.48, 8.3], [0.8, 7.7], [0.9, 7.2], [0.82, 6.4], [0.88, 5.4], [0.78, 4.7], [0.75, 3.9], [0.55, 2.2], [0.65, 1.6], [0.7, 0.9], [0.6, 0.3], [0.65, -0.9], [-0.55, -0.9], [-0.7, 0.1], [-0.85, 1.2], [-0.85, 2.4], [-0.92, 3.2], [-0.82, 4.1], [-0.7, 5.3], [-0.7, 6.0], [-0.6, 6.5], [-0.8, 7.15], [-0.5, 7.6], [-0.5, 8.2], [-0.4, 8.9], [-0.3, 9.4]]],
  [142, [[-0.18, 9.68], [0.18, 9.68], [0.48, 9.34], [0.3, 9.04], [0.38, 8.4], [0.28, 7.55], [0.6, 7.2], [0.76, 6.55], [0.78, 5.07], [0.55, 4.28], [0.58, 3.96], [0.4, 2.16], [0.0, 1.7], [0.05, 0.55], [0.0, 0.15], [0.35, -0.05], [0.2, -0.82], [-0.42, -0.82], [-0.5, -0.4], [-0.78, 0.55], [-0.7, 2.39], [-0.86, 2.9], [-0.83, 3.87], [-0.55, 5.0], [-0.6, 5.9], [-0.48, 6.64], [-0.7, 7.15], [-0.34, 7.52], [-0.42, 8.03], [-0.34, 8.77]]],
  [138, [...p4CoreLeft, ...p4CoreLeftB, [-0.35, -0.28], [-0.13, 0.04], [-0.09, 0.55], [-0.19, 1.61], [0.33, 2.16], [0.51, 3.96], [0.49, 4.28], [0.73, 5.07], [0.71, 6.55], [0.55, 7.15], [0.23, 7.47], [0.33, 8.4], [0.26, 9.04], [0.43, 9.34], [0.14, 9.57]]],
  [135, [[-0.02, 9.35], [0.12, 9.35], [0.2, 8.9], [0.22, 8.4], [0.15, 7.5], [0.45, 7.1], [0.6, 6.4], [0.6, 5.0], [0.4, 4.4], [0.4, 3.9], [0.28, 2.6], [0.05, 2.2], [-0.35, 1.9], [-0.55, 2.4], [-0.6, 3.5], [-0.42, 4.4], [-0.38, 5.3], [-0.35, 6.6], [-0.45, 7.1], [-0.12, 7.5], [-0.2, 8.2]]],
  [132, [[0, 9.0], [0.06, 9.0], [0.08, 8.0], [0.05, 7.4], [0.38, 7.0], [0.42, 6.2], [0.38, 5.2], [0.25, 4.8], [0.15, 3.5], [0.06, 2.4], [-0.4, 2.2], [-0.42, 3.5], [-0.3, 4.5], [-0.2, 5.2], [-0.25, 6.5], [-0.1, 7.0], [-0.02, 7.5]]],
  [130, [[0.0, 7.0], [0.32, 6.5], [0.33, 5.45], [0.0, 5.4]]],
  [130, [[-0.44, 3.9], [0.01, 3.75], [0.01, 2.8], [-0.44, 2.9]]],
  [130, [[-0.02, 5.4], [0.3, 5.4], [0.15, 4.8], [0, 4.6]]],
  [0, p4Hole],
];
const p4Lines: Line[] = [
  [150, [[-0.99, 8.23], [-0.87, 8.72], [-0.54, 8.9], [-0.38, 9.45], [-0.54, 9.87], [-0.72, 9.97]]],
  [150, [[-0.93, 9.87], [-0.8, 9.85]]], [150, [[-1.16, 9.65], [-1.0, 9.75]]], [150, [[0.78, 9.92], [0.88, 9.78], [1.19, 9.6]]],
  [150, [[-1.19, 7.3], [-1.22, 6.64], [-1.06, 6.36], [-1.22, 5.85], [-1.12, 5.62], [-1.28, 5.2]]],
  [150, [[0.78, 9.32], [0.46, 8.95], [1.01, 8.24], [1.04, 7.83], [1.2, 7.52], [1.2, 6.73], [1.07, 6.36], [1.23, 5.85], [1.14, 5.62], [1.29, 5.2]]],
  [150, [[-1.25, 4.0], [-1.09, 3.6], [-1.09, 3.17], [-1.22, 2.9], [-1.2, 2.1], [-1.15, 1.9]]],
  [150, [[-1.22, 0.9], [-1.03, 0.5]]], [150, [[1.23, 3.9], [1.23, 2.6]]], [150, [[1.12, 1.6], [1.13, 1.3], [1.23, 0.97]]], [150, [[1.07, 0.6], [1.18, 0.75]]],
  [150, [[0.2, 9.95], [0.21, 9.87]]],
  [140, p4CoreLeft], [140, p4CoreLeftB], [140, p4CoreRight], [140, [[-0.64, -0.38], [-0.41, -0.42]]],
  [140, [[-1.28, 4.85], [-1.24, 4.45], [-1.28, 4.1]]], [140, [[1.28, 4.9], [1.22, 4.5], [1.28, 4.1]]],
  [130, [...p4Hole, p4Hole[0]]], [130, [[1.29, 4.5], [1.27, 4.35]]],
];
const p4Labels: Lab[] = [[-1.0, 7.7, '150', -45, 150], [0.52, 9.6, '150', 35, 150], [-0.62, 4.75, '140', -55, 140], [-1.08, 1.35, '150', -90, 150], [1.16, 2.1, '150', -90, 150]];
const p4Thin: Pt[][] = [
  [[-0.25, 9.3], [-0.3, 8.7], [-0.3, 8], [-0.24, 7.55], [-0.55, 7.15], [-0.33, 6.65], [-0.45, 5.9], [-0.33, 5.5], [-0.38, 5]],
  [[-0.2, 9.2], [-0.22, 8.7], [-0.24, 8], [-0.2, 7.55], [-0.45, 7.15], [-0.25, 6.65], [-0.35, 5.9], [-0.25, 5.5], [-0.3, 5]],
  [[-0.14, 9.1], [-0.15, 8.7], [-0.17, 8], [-0.12, 7.55], [-0.35, 7.2], [-0.18, 6.65], [-0.25, 5.9], [-0.16, 5.5], [-0.22, 5]],
  [[-0.06, 9.1], [-0.08, 8.7], [-0.09, 8], [-0.05, 7.55], [-0.22, 7.2], [-0.1, 6.65], [-0.15, 5.9], [-0.08, 5.5]],
  [[0.02, 9.3], [0.02, 7.6]],
  [[0.08, 9.25], [0.1, 8.7], [0.12, 8], [0.08, 7.55], [0.28, 7.2], [0.42, 6.6], [0.45, 5.2]],
  [[0.15, 9.3], [0.17, 8.7], [0.2, 8], [0.15, 7.55], [0.38, 7.2], [0.52, 6.6], [0.55, 5.2], [0.38, 4.4]],
  [[0.22, 9.35], [0.22, 8.9], [0.27, 8.4], [0.2, 7.55], [0.47, 7.2], [0.63, 6.6], [0.65, 5.1], [0.44, 4.3]],
  [[-0.35, 9.4], [-0.42, 8.8], [-0.5, 8.05], [-0.45, 7.45], [-0.85, 7.15], [-0.6, 6.65], [-0.7, 5.9], [-0.6, 5.5], [-0.65, 5]],
  [[-0.45, 9.2], [-0.6, 8.8], [-0.7, 8.05], [-0.7, 7.5], [-1, 7.1], [-0.8, 6.65], [-0.85, 5.9], [-0.8, 5.5], [-0.8, 5]],
  [[0.3, 9.7], [0.52, 9.3], [0.38, 9], [0.45, 8.4], [0.4, 7.55], [0.75, 7.25], [0.88, 6.5], [0.9, 5.1], [0.65, 4.4], [0.6, 3.9], [0.45, 2.2]],
  [[0.42, 9.8], [0.65, 9.3], [0.5, 8.9], [0.6, 8.4], [0.65, 7.7], [0.95, 7.3], [1.02, 6.5]],
  [[-0.62, 2.2], [-0.65, 0.6], [-0.38, -0.3]], [[-0.52, 2.1], [-0.55, 0.6], [-0.32, -0.2]], [[-0.42, 2], [-0.45, 0.6], [-0.25, -0.1]], [[-0.32, 1.9], [-0.34, 0.6], [-0.18, 0.1]], [[-0.24, 1.75], [-0.24, 0.6], [-0.17, 0.2]],
  [[-0.65, 3.9], [-0.68, 2.9], [-0.54, 2.4]], [[-0.55, 3.9], [-0.56, 2.9], [-0.46, 2.4]], [[0.2, 2.3], [0.36, 3.9]], [[0.12, 2.3], [0.26, 3.9]], [[0.05, 2.9], [0.15, 4.2]],
  [[-0.4, -0.6], [0, -0.4], [0.4, -0.6]], [[-0.35, -0.75], [0, -0.55], [0.3, -0.75]],
  [[0.9, 3], [1.02, 2.6], [0.98, 2.3], [0.85, 2.2], [0.75, 2.6], [0.9, 3]], [[0.93, 2.8], [1.0, 2.6], [0.93, 2.35], [0.83, 2.55], [0.93, 2.8]],
];

const allPanels = [
  { layers: p0Layers, lines: p0Lines, labels: p0Labels, thin: p0Thin },
  { layers: p1Layers, lines: p1Lines, labels: p1Labels, thin: p1Thin },
  { layers: p2Layers, lines: p2Lines, labels: p2Labels, thin: p2Thin },
  { layers: p3Layers, lines: p3Lines, labels: p3Labels, thin: p3Thin },
  { layers: p4Layers, lines: p4Lines, labels: p4Labels, thin: p4Thin },
];
const plotLefts = [91, 264, 438, 611, 785];

function hex(c: string) {
  return [1, 3, 5].map((i) => parseInt(c.slice(i, i + 2), 16));
}
function colorOf(level: number) {
  if (level === 0) return '#ffffff';
  const t = ((level - 130 + 0.5) / 40) * (viridis.length - 1);
  const i = Math.min(Math.floor(t), viridis.length - 2);
  const a = hex(viridis[i]);
  const b = hex(viridis[i + 1]);
  const m = a.map((v, k) => Math.round(v + (b[k] - v) * (t - i)));
  return `rgb(${m.join(',')})`;
}
const rows = (pts: Pt[]) => pts.map(([r, y]) => ({ r, y }));
const closed = (pts: Pt[]) => rows([...pts, pts[0]]);
const NoDot = () => null;
const Cross = (p: any) => (
  <path d={`M${p.cx - 2.8},${p.cy - 2.8}L${p.cx + 2.8},${p.cy + 2.8}M${p.cx - 2.8},${p.cy + 2.8}L${p.cx + 2.8},${p.cy - 2.8}`} stroke="#ff0000" strokeWidth={1.8} />
);
const ContourLabel = (p: any) => (
  <text x={p.cx} y={p.cy} transform={`rotate(${p.payload.angle} ${p.cx} ${p.cy})`} textAnchor="middle" dominantBaseline="central" fontSize={13} fontFamily={FONT} fill={lineColor[p.payload.level]}>
    {p.payload.text}
  </text>
);
const minus = (v: number) => (v < 0 ? `\u2212${-v}` : `${v}`);

function Panel({ index }: { index: number }) {
  const { layers, lines, labels, thin } = allPanels[index];
  const first = index === 0;
  return (
    <div style={{ position: 'absolute', left: plotLefts[index] - 60, top: 0 }}>
      <ScatterChart width={225} height={561} margin={{ top: 50, right: 10, bottom: 0, left: 0 }}>
        <XAxis
          dataKey="r" type="number" domain={[-1.5, 1.5]} ticks={xTicks} allowDataOverflow axisLine={false} height={76} tickSize={7} tickLine={{ stroke: '#000', strokeWidth: 1.2 }}
          tick={{ fontSize: 28, fill: '#000', fontFamily: FONT }} tickFormatter={minus} interval={0}
          label={{ value: 'radius (m)', position: 'insideBottom', offset: 8, fontSize: 28, fill: '#000', fontFamily: FONT }}
        />
        <YAxis
          dataKey="y" type="number" domain={[-1.03, 11]} ticks={yTicks} allowDataOverflow axisLine={false} width={60} tickSize={7} tickMargin={6} tickLine={{ stroke: '#000', strokeWidth: 1.2 }}
          tick={{ fontSize: 28, fill: '#000', fontFamily: FONT }} tickFormatter={first ? minus : () => ''} interval={0}
        />
        {layers.filter(([level]) => level !== 0).map(([level, pts], i) => (
          <Scatter key={`f${i}`} data={closed(pts)} shape={NoDot} isAnimationActive={false}
            line={{ fill: colorOf(level), stroke: 'rgba(255,255,255,0.35)', strokeWidth: 0.6 }} />
        ))}
        {thin.map((pts, i) => (
          <Scatter key={`t${i}`} data={rows(pts)} shape={NoDot} isAnimationActive={false}
            line={{ fill: 'none', stroke: 'rgba(255,255,255,0.4)', strokeWidth: 0.6 }} />
        ))}
        {layers.filter(([level]) => level === 0).map(([level, pts], i) => (
          <Scatter key={`h${i}`} data={closed(pts)} shape={NoDot} isAnimationActive={false} line={{ fill: colorOf(level), stroke: 'none' }} />
        ))}
        <Scatter data={rows(mask)} shape={NoDot} isAnimationActive={false} line={{ fill: '#ffffff', stroke: 'none' }} />
        {lines.map(([level, pts], i) => (
          <Scatter key={`l${i}`} data={rows(pts)} shape={NoDot} isAnimationActive={false}
            line={{ fill: 'none', stroke: lineColor[level], strokeWidth: level === 130 ? 3 : 2.8, strokeLinejoin: 'round' }} />
        ))}
        <Scatter data={labels.map(([r, y, text, angle, level]) => ({ r, y, text, angle, level }))} shape={ContourLabel} isAnimationActive={false} />
        {first && <Scatter data={sensors} shape={Cross} isAnimationActive={false} />}
        <Scatter data={rows(frame)} shape={NoDot} isAnimationActive={false} line={{ fill: 'none', stroke: '#000', strokeWidth: 1.5 }} />
        <text x={137.5} y={index === 4 ? 39 : 41} textAnchor="middle" fontSize={33} fontFamily={FONT} fill="#000">{titles[index]}</text>
      </ScatterChart>
    </div>
  );
}

function ColorBar() {
  const box: Pt[] = [[0, 130], [1, 130], [1, 170], [0, 170], [0, 130]];
  return (
    <div style={{ position: 'absolute', left: 951, top: 0 }}>
      <ScatterChart width={121} height={561} margin={{ top: 50, right: 0, bottom: 76, left: 0 }}>
        <XAxis dataKey="r" type="number" domain={[0, 1]} hide />
        <YAxis dataKey="y" type="number" orientation="right" domain={[130, 170]} ticks={cbTicks} width={100} axisLine={false} tickSize={7} tickMargin={6} tickLine={{ stroke: '#000', strokeWidth: 1.2 }}
          tick={{ fontSize: 28, fill: '#000', fontFamily: FONT }} interval={0} />
        {levels.map((l) => (
          <Scatter key={l} data={closed([[0, l], [1, l], [1, l + 1], [0, l + 1]])} shape={NoDot} isAnimationActive={false} line={{ fill: colorOf(l), stroke: colorOf(l), strokeWidth: 0.5 }} />
        ))}
        <Scatter data={rows(box)} shape={NoDot} isAnimationActive={false} line={{ fill: 'none', stroke: '#222', strokeWidth: 1.2 }} />
        <text transform="translate(111 266) rotate(-90)" textAnchor="middle" fontSize={28} fontFamily={FONT} fill="#000">
          temp (<tspan dy={-9} fontSize={19}>o</tspan><tspan dy={9}>C)</tspan>
        </text>
      </ScatterChart>
    </div>
  );
}

export default function App() {
  return (
    <div style={{ position: 'absolute', left: 0, top: 0, width: 1072, height: 561, background: '#fff', overflow: 'hidden' }}>
      {[0, 1, 2, 3, 4].map((i) => <Panel key={i} index={i} />)}
      <ColorBar />
      <div style={{ position: 'absolute', left: -57, top: 252, width: 164, textAlign: 'center', transform: 'rotate(-90deg)', fontSize: 28, fontFamily: FONT, whiteSpace: 'nowrap', lineHeight: '30px' }}>elevation (m)</div>
    </div>
  );
}
